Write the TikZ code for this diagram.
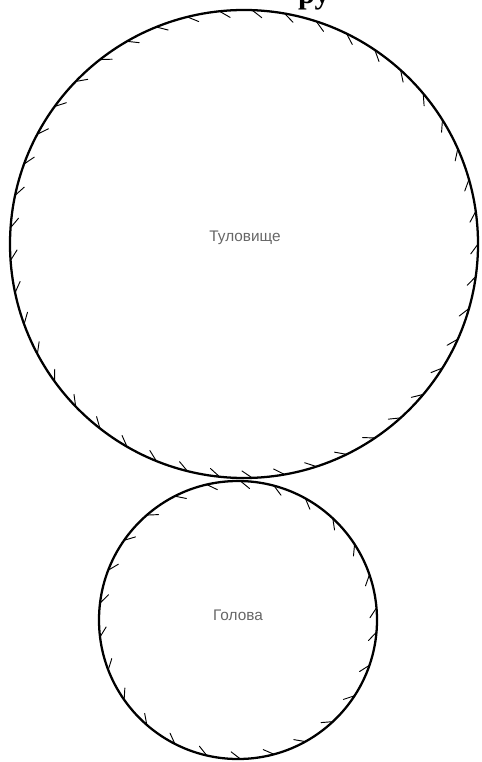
\documentclass[tikz,border=0pt]{standalone}
\usepackage{fontspec}
\setmainfont{Liberation Serif}
\newfontfamily\labelfont{Liberation Sans}
\usetikzlibrary{calc}
\begin{document}
\begin{tikzpicture}[x=0.75pt, y=-0.75pt]
  \tikzset{outline/.style={line width=1.7pt, black},
    notch/.style={line width=0.7pt, black, line cap=round},
    lbl/.style={font=\labelfont\fontsize{11.5}{13}\selectfont, text=black!60, inner sep=0pt}}
  \useasboundingbox (0,0) rectangle (481,762);
  \clip (0,0) rectangle (481,762);
  % title, cut off by the top edge
  \node[font=\bfseries\fontsize{23}{26}\selectfont, anchor=base, inner sep=0pt] (title) at (314,4) {ру};
  % body piece
  \coordinate (cb) at (244,244);
  \draw[outline] (cb) circle[radius=234];
  \foreach \a in {0,8,...,352}
    \draw[notch] ($(cb)+(\a:234)$) -- ($(cb)+(\a+2.5:227)$);
  \node[lbl] (body) at (245,238) {Туловище};
  % head piece
  \coordinate (ch) at (238,620);
  \draw[outline] (ch) circle[radius=139];
  \foreach \a in {5,19,...,355}
    \draw[notch] ($(ch)+(\a:139)$) -- ($(ch)+(\a+4:132)$);
  \node[lbl] (head) at (238,615) {Голова};
\end{tikzpicture}
\end{document}
